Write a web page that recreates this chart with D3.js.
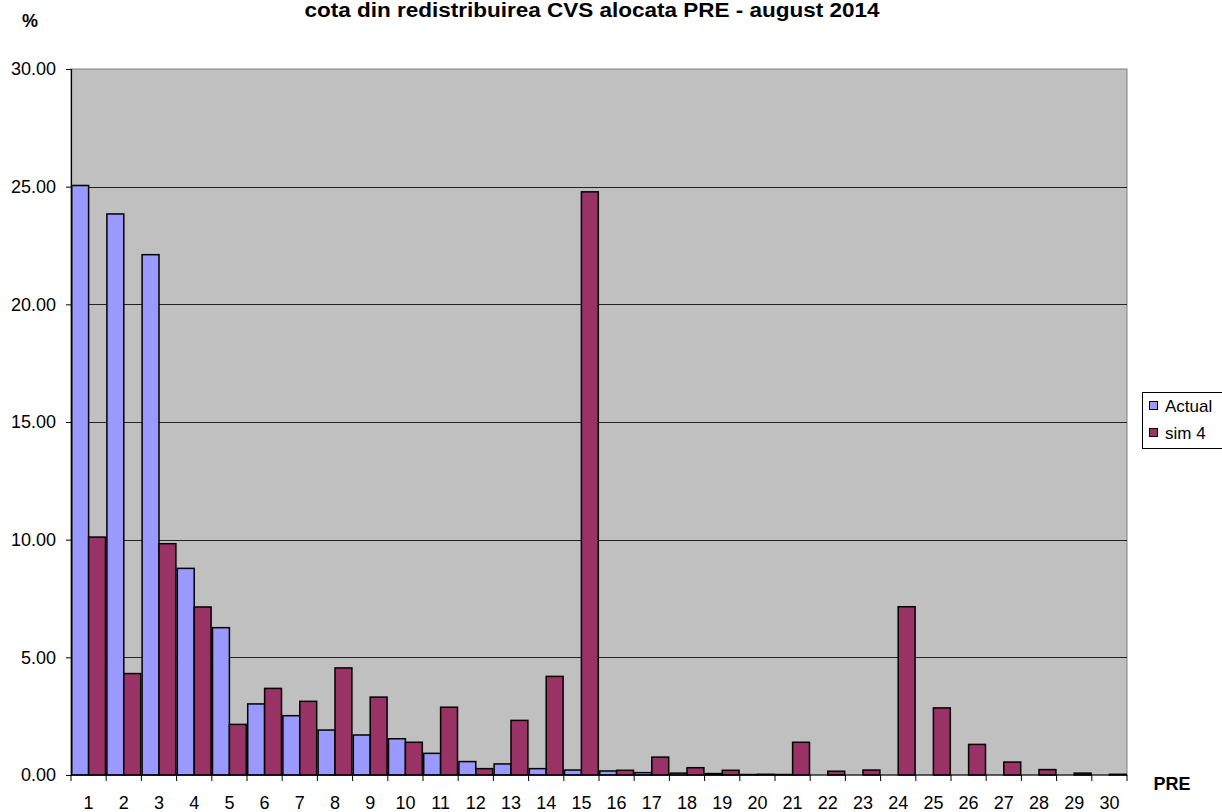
<!DOCTYPE html>
<html>
<head>
<meta charset="utf-8">
<script src="https://cdn.jsdelivr.net/npm/d3@7"></script>
<style>
html,body{margin:0;padding:0;background:#fff;}
svg{display:block;font-family:Arial,"Liberation Sans",sans-serif;}
</style>
</head>
<body>
<svg id="chart" width="1222" height="812"></svg>
<script>
const categories = d3.range(1, 31).map(String);
const seriesNames = ["Actual", "sim 4"];
const actualValues = [25.05, 23.84, 22.11, 8.78, 6.26, 3.02, 2.52, 1.91, 1.70, 1.54,
  0.92, 0.57, 0.47, 0.27, 0.21, 0.17, 0.10, 0.08, 0.06, 0.02,
  0.02, 0, 0, 0, 0, 0, 0, 0, 0, 0];
const sim4Values = [10.11, 4.31, 9.83, 7.14, 2.15, 3.68, 3.13, 4.55, 3.31, 1.39,
  2.88, 0.27, 2.32, 4.19, 24.78, 0.20, 0.76, 0.31, 0.20, 0.03,
  1.39, 0.16, 0.21, 7.15, 2.85, 1.30, 0.55, 0.23, 0.08, 0.03];
const yTicks = [0, 5, 10, 15, 20, 25, 30];
const colors = ["#9999FF", "#993366"];
const titleText = "cota din redistribuirea CVS alocata PRE - august 2014";

const svg = d3.select("#chart");
const L = 71, R = 1127, T = 69, B = 775;

const x = d3.scaleBand().domain(categories).range([L, R]).paddingInner(0.04).paddingOuter(0.02);
const xs = d3.scaleBand().domain(seriesNames).range([0, x.bandwidth()]);
const y = d3.scaleLinear().domain([0, 30]).range([B, T]);

// plot background
svg.append("rect").attr("x", L).attr("y", T).attr("width", R - L).attr("height", B - T)
  .attr("fill", "#C0C0C0").attr("stroke", "#808080").attr("stroke-width", 1);

// gridlines
svg.append("g").selectAll("line").data(yTicks.filter(d => d > 0 && d < 30)).join("line")
  .attr("x1", L).attr("x2", R)
  .attr("y1", d => Math.round(y(d)) + 0.5).attr("y2", d => Math.round(y(d)) + 0.5)
  .attr("stroke", "#222").attr("stroke-width", 1);

// bars
const data = categories.map((c, i) => ({c, vals: [actualValues[i], sim4Values[i]]}));
const groups = svg.append("g").selectAll("g").data(data).join("g")
  .attr("transform", d => `translate(${x(d.c)},0)`);
groups.selectAll("rect").data(d => d.vals.map((v, j) => ({v, s: seriesNames[j], j}))).join("rect")
  .attr("x", d => xs(d.s))
  .attr("width", xs.bandwidth())
  .attr("y", d => y(d.v))
  .attr("height", d => y(0) - y(d.v))
  .attr("fill", d => colors[d.j])
  .attr("stroke", "#000").attr("stroke-width", 1.5);

// Y axis
const yAxis = d3.axisLeft(y).tickValues(yTicks).tickFormat(d3.format(".2f")).tickSize(5).tickPadding(10);
const gy = svg.append("g").attr("transform", `translate(${L},0)`).call(yAxis);
gy.select(".domain").attr("stroke", "#000").attr("stroke-width", 1.2);
gy.selectAll(".tick line").attr("stroke", "#000");
gy.selectAll("text").attr("font-size", 18).attr("fill", "#000").attr("font-family", "Arial, 'Liberation Sans', sans-serif");

// X axis with ticks at category boundaries
const gx = svg.append("g").attr("transform", `translate(0,${B})`);
gx.append("line").attr("x1", L).attr("x2", R).attr("y1", 0).attr("y2", 0).attr("stroke", "#000").attr("stroke-width", 1.2);
const step = (R - L) / categories.length;
gx.selectAll("line.t").data(d3.range(categories.length + 1)).join("line").attr("class", "t")
  .attr("x1", i => L + i * step).attr("x2", i => L + i * step)
  .attr("y1", 0).attr("y2", 6).attr("stroke", "#000");
gx.selectAll("text").data(categories).join("text")
  .attr("x", d => x(d) + x.bandwidth() / 2)
  .attr("y", 34).attr("text-anchor", "middle").attr("font-size", 18).attr("fill", "#000")
  .text(d => d);

// titles
svg.append("text").attr("x", 592).attr("y", 17).attr("text-anchor", "middle")
  .attr("font-size", 20).attr("font-weight", "bold")
  .attr("textLength", 575).attr("lengthAdjust", "spacingAndGlyphs").text(titleText);
svg.append("text").attr("x", 30).attr("y", 27).attr("text-anchor", "middle")
  .attr("font-size", 18).attr("font-weight", "bold").text("%");
svg.append("text").attr("x", 1172).attr("y", 790).attr("text-anchor", "middle")
  .attr("font-size", 18).attr("font-weight", "bold").text("PRE");

// legend
const lg = svg.append("g");
lg.append("rect").attr("x", 1142.5).attr("y", 392.5).attr("width", 90).attr("height", 56)
  .attr("fill", "#fff").attr("stroke", "#000").attr("stroke-width", 1);
seriesNames.forEach((s, i) => {
  const yy = 401 + i * 27;
  lg.append("rect").attr("x", 1149.5).attr("y", yy + 0.5).attr("width", 8).attr("height", 8)
    .attr("fill", colors[i]).attr("stroke", "#000").attr("stroke-width", 1);
  lg.append("text").attr("x", 1165).attr("y", yy + 11).attr("font-size", 17).attr("fill", "#000").text(s);
});
</script>
</body>
</html>
